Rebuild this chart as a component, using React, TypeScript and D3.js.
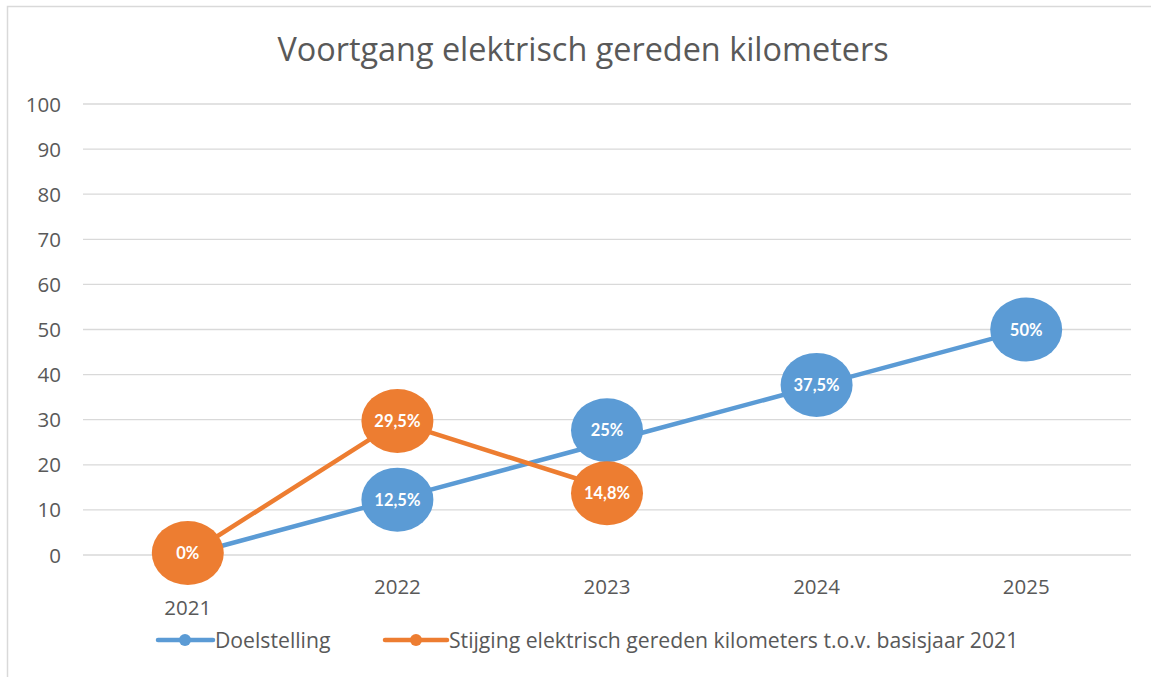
import React from "react";
import * as d3 from "d3";

const categories = ["2021", "2022", "2023", "2024", "2025"];
const doelstelling = [0, 12.5, 25, 37.5, 50];
const doelLabels = ["", "12,5%", "25%", "37,5%", "50%"];
const stijging = [0, 29.5, 14.8];
const stijgingLabels = ["0%", "29,5%", "14,8%"];
const yTicks = [0, 10, 20, 30, 40, 50, 60, 70, 80, 90, 100];
const seriesNames = ["Doelstelling", "Stijging elektrisch gereden kilometers t.o.v. basisjaar 2021"];

const W = 1151, H = 677;
const BLUE = "#5B9BD5", ORANGE = "#ED7D31";
const FONT = "'Open Sans', sans-serif";
const LABEL_FONT = "Lato, sans-serif";
// label nudges (pixels) as Excel placed them to avoid overlap
const doelNudge = [0, 1, -12, -1, 0];
const stijgNudge = [-2, -1, 5];
const xLabelNudge = [21, 0, 0, 0, 0];

export default function App() {
  const x = d3.scalePoint<string>().domain(categories).range([83, 1131]).padding(0.5);
  const y = d3.scaleLinear().domain([0, 100]).range([555, 104]);
  const line = d3.line<number>().x((_, i) => x(categories[i])!).y((d) => y(d));

  return (
    <svg width={W} height={H} style={{ position: "absolute", left: 0, top: 0, background: "#fff" }}>
      <rect x={7.5} y={6.5} width={1160} height={700} fill="#fff" stroke="#D9D9D9" strokeWidth={1.5} />
      <text x={583} y={61} textAnchor="middle" fontFamily={FONT} fontSize={32.4} fill="#595959">
        Voortgang elektrisch gereden kilometers
      </text>
      {yTicks.map((t) => (
        <g key={t}>
          <line x1={83} x2={1131} y1={y(t)} y2={y(t)} stroke="#D9D9D9" strokeWidth={1.3} />
          <text x={61} y={y(t) + 7.5} textAnchor="end" fontFamily={FONT} fontSize={20.5} fill="#595959">
            {t}
          </text>
        </g>
      ))}
      {categories.map((c, i) => (
        <text key={c} x={x(c)} y={594 + xLabelNudge[i]} textAnchor="middle" fontFamily={FONT} fontSize={20.5} fill="#595959">
          {c}
        </text>
      ))}
      <path d={line(doelstelling)!} fill="none" stroke={BLUE} strokeWidth={4.5} strokeLinejoin="round" />
      <path d={line(stijging)!} fill="none" stroke={ORANGE} strokeWidth={4.5} strokeLinejoin="round" />
      {doelstelling.map((v, i) =>
        doelLabels[i] ? (
          <g key={"d" + i} transform={`translate(${x(categories[i])},${y(v) + doelNudge[i]})`}>
            <ellipse rx={36} ry={32} fill={BLUE} />
            <text y={6} textAnchor="middle" fontFamily={LABEL_FONT} fontWeight={700} fontSize={16.5} fill="#fff">
              {doelLabels[i]}
            </text>
          </g>
        ) : null
      )}
      {stijging.map((v, i) => (
        <g key={"s" + i} transform={`translate(${x(categories[i])},${y(v) + stijgNudge[i]})`}>
          <ellipse rx={36} ry={32} fill={ORANGE} />
          <text y={6} textAnchor="middle" fontFamily={LABEL_FONT} fontWeight={700} fontSize={16.5} fill="#fff">
            {stijgingLabels[i]}
          </text>
        </g>
      ))}
      {/* legend */}
      <g>
        <line x1={158} x2={213} y1={640} y2={640} stroke={BLUE} strokeWidth={4.5} strokeLinecap="round" />
        <circle cx={185} cy={640} r={6} fill={BLUE} />
        <text x={215} y={647.5} fontFamily={FONT} fontSize={21.2} fill="#595959">{seriesNames[0]}</text>
        <line x1={385} x2={447} y1={640} y2={640} stroke={ORANGE} strokeWidth={4.5} strokeLinecap="round" />
        <circle cx={416} cy={640} r={6} fill={ORANGE} />
        <text x={449} y={647.5} fontFamily={FONT} fontSize={21.2} fill="#595959">{seriesNames[1]}</text>
      </g>
    </svg>
  );
}
